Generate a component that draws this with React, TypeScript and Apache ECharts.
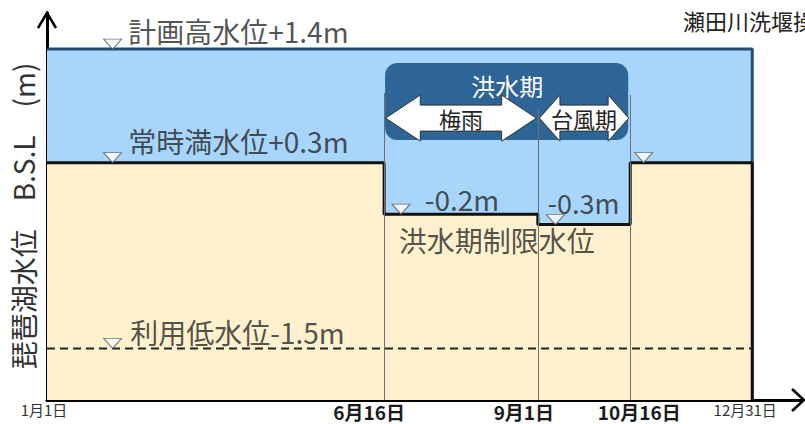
import React, { useEffect, useRef } from 'react';
import * as echarts from 'echarts';

// ---- data (schematic positions of dates along the year, 0 = 1/1, 100 = 12/31) ----
const xTickPos = [0, 47.8, 69.6, 82.7, 100];
const xTickLabels = ['1月1日', '6月16日', '9月1日', '10月16日', '12月31日'];

const levelHigh = 1.4; // 計画高水位
const levelLow = -1.5; // 利用低水位
const yMin = -2.0;

// water-level rule by period (between tick positions)
const periodBounds = [0, 47.8, 69.6, 82.7, 100];
const periodLevels = [0.3, -0.2, -0.3, 0.3];

// flood season
const floodSeason = ['洪水期', 47.8, 82.7];
const floodSubPeriods = [
  ['梅雨', 47.8, 69.6],
  ['台風期', 69.6, 82.7],
];

// vertical guide lines (x, upper end level)
const guideX = [47.8, 69.6, 82.7];
const guideTop = [0.975, 0.83, 0.955];

// level markers (▽) with their annotations
const markerX = [9.3, 9.3, 50.2, 72.1, 84.6, 9.3];
const markerY = [1.4, 0.3, -0.2, -0.3, 0.3, -1.5];
const markerLabels = ['計画高水位+1.4m', '常時満水位+0.3m', '-0.2m', '-0.3m', '', '利用低水位-1.5m'];
const floodLimitLabel = '洪水期制限水位';
const floodLimitPos = [49.8, -0.2];

const FONT = '"Noto Sans CJK JP", "Noto Sans", sans-serif';

const markerLabelStyles: any[] = [
  { position: 'right', distance: 6, offset: [0, -13] },
  { position: 'right', distance: 6, offset: [0, -17] },
  { position: 'right', distance: 14, offset: [0, -10] },
  { position: 'inside', offset: [28, -17], fontSize: 27 },
  {},
  { position: 'right', distance: 8, offset: [0, -11] },
];

export default function App() {
  const ref = useRef<HTMLDivElement>(null);

  useEffect(() => {
    if (!ref.current) return;
    const chart = echarts.init(ref.current, undefined, { renderer: 'svg' });

    const steps: number[][] = [];
    periodLevels.forEach((lv, i) => {
      steps.push([periodBounds[i], lv]);
      steps.push([periodBounds[i + 1], lv]);
    });
    steps.push([periodBounds[periodBounds.length - 1], yMin]);

    const markerItems = markerX.map((x, i) => ({
      value: [x, markerY[i]],
      label: {
        show: !!markerLabels[i],
        formatter: markerLabels[i],
        ...markerLabelStyles[i],
      },
    }));
    const limitItem = {
      value: floodLimitPos,
      symbolSize: 1,
      itemStyle: { color: 'rgba(0,0,0,0)', borderWidth: 0 },
      label: { show: true, formatter: floodLimitLabel, position: 'right', distance: 0, offset: [0, 31] },
    };

    const option: any = {
      animation: false,
      textStyle: { fontFamily: FONT },
      grid: { left: 47, right: 2, top: 13, bottom: 24, containLabel: false },
      xAxis: {
        type: 'value',
        min: 0,
        max: 107.2,
        axisLine: { show: true, onZero: false, lineStyle: { color: '#000', width: 3 } },
        axisTick: { show: false },
        splitLine: { show: false },
        axisLabel: {
          customValues: xTickPos,
          margin: 2,
          fontFamily: FONT,
          formatter: (v: number) => {
            const i = xTickPos.findIndex((p) => Math.abs(p - v) < 1e-6);
            return i < 0 ? '' : `{s${i}|${xTickLabels[i]}}`;
          },
          rich: {
            s0: { fontSize: 15, color: '#333', fontFamily: FONT, padding: [0, 6, 0, 0] },
            s1: { fontSize: 19, fontWeight: 'bold', color: '#1a1a1a', fontFamily: FONT, padding: [0, 30, 0, 0] },
            s2: { fontSize: 19, fontWeight: 'bold', color: '#1a1a1a', fontFamily: FONT, padding: [0, 28, 0, 0] },
            s3: { fontSize: 19, fontWeight: 'bold', color: '#1a1a1a', fontFamily: FONT, padding: [0, 0, 0, 18] },
            s4: { fontSize: 15, color: '#333', fontFamily: FONT, padding: [0, 14, 0, 0] },
          },
        },
      },
      yAxis: {
        type: 'value',
        min: yMin,
        max: 1.75,
        axisLine: { show: true, onZero: false, lineStyle: { color: '#000', width: 3 } },
        axisTick: { show: false },
        axisLabel: { show: false },
        splitLine: { show: false },
      },
      series: [
        {
          name: 'high',
          type: 'line',
          z: 1,
          symbol: 'none',
          data: [[0, levelHigh], [100, levelHigh], [100, yMin]],
          lineStyle: { color: '#1F4E79', width: 3 },
          areaStyle: { color: '#A8D5FC', opacity: 1, origin: 'start' },
        },
        {
          name: 'rule',
          type: 'line',
          z: 2,
          symbol: 'none',
          data: steps,
          lineStyle: { color: '#111', width: 3 },
          areaStyle: { color: '#FFF1CE', opacity: 1, origin: 'start' },
        },
        {
          name: 'low',
          type: 'line',
          z: 3,
          symbol: 'none',
          data: [[0, levelLow], [100, levelLow]],
          lineStyle: { color: '#222', width: 2, type: [8, 5] },
        },
        {
          name: 'box',
          type: 'custom',
          z: 4,
          coordinateSystem: 'cartesian2d',
          data: [[floodSeason[1], floodSeason[2]]],
          renderItem: (params: any, api: any) => {
            const x0 = api.coord([api.value(0), levelHigh])[0];
            const x1 = api.coord([api.value(1), levelHigh])[0];
            const yTop = api.coord([0, levelHigh])[1];
            return {
              type: 'group',
              children: [
                {
                  type: 'rect',
                  shape: { x: x0 + 1, y: yTop + 14, width: x1 - x0 - 3, height: 77, r: 12 },
                  style: { fill: '#2D6597' },
                },
                {
                  type: 'text',
                  x: (x0 + x1) / 2,
                  y: yTop + 36,
                  style: {
                    text: floodSeason[0] as string,
                    align: 'center',
                    verticalAlign: 'middle',
                    fill: '#fff',
                    fontSize: 24,
                    fontFamily: FONT,
                  },
                },
              ],
            };
          },
        },
        {
          name: 'arrows',
          type: 'custom',
          z: 5,
          coordinateSystem: 'cartesian2d',
          data: floodSubPeriods.map((p) => [p[1], p[2], p[0]]),
          renderItem: (params: any, api: any) => {
            const idx = params.dataIndex;
            const x0 = api.coord([api.value(0), levelHigh])[0] + 1.5;
            const x1 = api.coord([api.value(1), levelHigh])[0] - 1.5;
            const yc = api.coord([0, levelHigh])[1] + 69;
            const s = 13;
            const H = 23;
            const h = (x1 - x0) * 0.23;
            const pts = [
              [x0, yc], [x0 + h, yc - H], [x0 + h, yc - s], [x1 - h, yc - s], [x1 - h, yc - H],
              [x1, yc], [x1 - h, yc + H], [x1 - h, yc + s], [x0 + h, yc + s], [x0 + h, yc + H],
            ];
            return {
              type: 'group',
              children: [
                { type: 'polygon', shape: { points: pts }, style: { fill: '#fff', stroke: '#333', lineWidth: 1 } },
                {
                  type: 'text',
                  x: (x0 + x1) / 2,
                  y: yc,
                  style: {
                    text: floodSubPeriods[idx][0] as string,
                    align: 'center',
                    verticalAlign: 'middle',
                    fill: '#222',
                    fontSize: 22,
                    fontFamily: FONT,
                  },
                },
              ],
            };
          },
        },
        {
          name: 'guides',
          type: 'line',
          z: 6,
          symbol: 'none',
          data: [],
          markLine: {
            silent: true,
            symbol: ['none', 'none'],
            label: { show: false },
            lineStyle: { color: '#6f6f6f', width: 1, type: 'solid' },
            data: guideX.map((x, i) => [{ coord: [x, guideTop[i]] }, { coord: [x, yMin] }]),
          },
        },
        {
          name: 'markers',
          type: 'scatter',
          z: 7,
          symbol: 'triangle',
          symbolRotate: 180,
          symbolSize: [18, 10],
          symbolOffset: [0, -5],
          itemStyle: { color: '#fff', borderColor: '#555', borderWidth: 1 },
          label: { color: '#262626', fontSize: 28, fontFamily: FONT },
          data: [...markerItems, limitItem],
        },
      ],
      graphic: [
        {
          type: 'polyline',
          shape: { points: [[38, 28], [47, 13], [56, 28]] },
          style: { stroke: '#000', lineWidth: 2.5, fill: 'none' },
        },
        {
          type: 'polyline',
          shape: { points: [[792, 389], [804, 400], [792, 411]] },
          style: { stroke: '#000', lineWidth: 2.5, fill: 'none' },
        },
        {
          type: 'text',
          x: 23,
          y: 216,
          rotation: Math.PI / 2,
          style: {
            text: '琵琶湖水位　B.S.L　(m)',
            align: 'center',
            verticalAlign: 'middle',
            fill: '#333',
            fontSize: 28,
            fontFamily: FONT,
          },
        },
        {
          type: 'text',
          x: 683,
          y: 20,
          style: {
            text: '瀬田川洗堰操作規則',
            align: 'left',
            verticalAlign: 'middle',
            fill: '#222',
            fontSize: 22,
            fontFamily: FONT,
          },
        },
      ],
    };

    chart.setOption(option);
    return () => chart.dispose();
  }, []);

  return (
    <div
      ref={ref}
      style={{ position: 'absolute', left: 0, top: 0, width: 805, height: 424 }}
    />
  );
}
